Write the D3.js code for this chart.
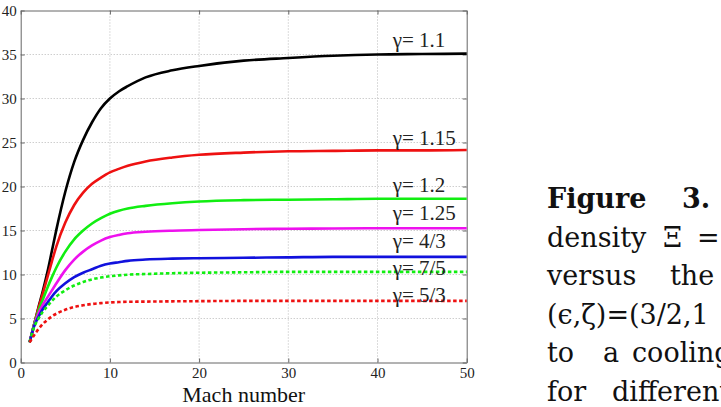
<!DOCTYPE html>
<html><head><meta charset="utf-8">
<script src="https://cdn.jsdelivr.net/npm/d3@7"></script>
<style>
html,body{margin:0;padding:0;background:#fff;}
svg{display:block;}
</style></head>
<body>
<svg id="chart" width="721" height="407"></svg>
<script>
// ---- data ----
const mach = [1, 1.5, 2, 2.5, 3, 3.5, 4, 5, 6, 7, 8, 9, 10, 11, 12, 14, 17, 20, 25, 30, 35, 40, 45, 50];
const gammaLabels = ["γ= 1.1", "γ= 1.15", "γ= 1.2", "γ= 1.25", "γ= 4/3", "γ= 7/5", "γ= 5/3"];
const g110 = [2.3, 4.3, 6.3, 8.2, 10.3, 12.7, 15.1, 19.4, 22.8, 25.3, 27.3, 28.9, 30.0, 30.8, 31.4, 32.4, 33.2, 33.7, 34.3, 34.6, 34.85, 35.0, 35.05, 35.1];
const g115 = [2.3, 4.3, 6.2, 7.9, 9.7, 11.5, 13.2, 15.9, 17.9, 19.3, 20.3, 21.0, 21.6, 22.0, 22.35, 22.85, 23.3, 23.6, 23.85, 24.0, 24.05, 24.1, 24.1, 24.15];
const g120 = [2.3, 4.3, 5.9, 7.2, 8.5, 9.7, 10.8, 12.6, 14.0, 15.0, 15.8, 16.4, 16.9, 17.25, 17.5, 17.8, 18.1, 18.3, 18.45, 18.5, 18.55, 18.6, 18.6, 18.6];
const g125 = [2.3, 4.2, 5.6, 6.6, 7.4, 8.2, 9.0, 10.5, 11.7, 12.6, 13.3, 13.85, 14.25, 14.5, 14.68, 14.85, 14.98, 15.05, 15.15, 15.2, 15.22, 15.25, 15.25, 15.25];
const g43 = [2.3, 4.1, 5.2, 6.1, 6.8, 7.5, 8.1, 9.0, 9.7, 10.2, 10.6, 11.0, 11.25, 11.4, 11.55, 11.7, 11.8, 11.85, 11.9, 11.95, 12.0, 12.0, 12.0, 12.0];
const g75 = [2.3, 4.0, 5.0, 5.8, 6.4, 7.0, 7.5, 8.2, 8.75, 9.15, 9.45, 9.65, 9.8, 9.9, 9.98, 10.05, 10.15, 10.2, 10.25, 10.3, 10.3, 10.3, 10.3, 10.3];
const g53 = [2.3, 3.1, 3.8, 4.4, 4.85, 5.25, 5.55, 6.0, 6.3, 6.5, 6.65, 6.75, 6.82, 6.87, 6.9, 6.92, 6.95, 6.97, 7.0, 7.0, 7.0, 7.0, 7.0, 7.0];
const seriesValues = [g110, g115, g120, g125, g43, g75, g53];
const seriesColors = ["#000000", "#ee1111", "#11ee11", "#ee11ee", "#1111dd", "#11ee11", "#ee1111"];
const seriesDashed = [false, false, false, false, false, true, true];
const labelX = 41.7;
const labelY = [35.9, 24.7, 19.4, 16.2, 13.0, 9.9, 6.85];
const xTicks = [0, 10, 20, 30, 40, 50];
const yTicks = [0, 5, 10, 15, 20, 25, 30, 35, 40];
const xTitle = "Mach number";
const captionLines = [
  {words: [["Figure", 547], ["3.", 682]], bold: true},
  {words: [["density", 547], ["Ξ", 663], ["=", 697]], bold: false},
  {words: [["versus", 547], ["the", 670]], bold: false},
  {words: [["(ϵ,ζ)=(3/2,1", 547]], bold: false},
  {words: [["to", 547], ["a", 603], ["cooling", 632]], bold: false},
  {words: [["for", 547], ["different", 612]], bold: false}
];

// ---- layout ----
const svg = d3.select("#chart");
const x = d3.scaleLinear().domain([0, 50]).range([20.7, 466.7]);
const y = d3.scaleLinear().domain([0, 40]).range([362.5, 10.5]);
const serif = "'Liberation Serif', 'Times New Roman', serif";

// grid
const grid = svg.append("g");
grid.selectAll("line.gx").data(xTicks.slice(1, -1)).join("line")
  .attr("x1", d => x(d)).attr("x2", d => x(d))
  .attr("y1", y(0)).attr("y2", y(40))
  .attr("stroke", "#b8b8b8").attr("stroke-width", 1).attr("stroke-dasharray", "1,2");
grid.selectAll("line.gy").data(yTicks.slice(1, -1)).join("line")
  .attr("y1", d => y(d)).attr("y2", d => y(d))
  .attr("x1", x(0)).attr("x2", x(50))
  .attr("stroke", "#b8b8b8").attr("stroke-width", 1).attr("stroke-dasharray", "1,2");

// axes (inward ticks, matlab style box)
const axStyle = g => {
  g.select(".domain").attr("stroke", "#666");
  g.selectAll(".tick line").attr("stroke", "#666");
  g.selectAll("text").attr("font-family", serif).attr("font-size", 15).attr("fill", "#222");
};
svg.append("g").attr("transform", `translate(0,${y(0)})`)
  .call(d3.axisBottom(x).tickValues(xTicks).tickSizeInner(-4).tickSizeOuter(0).tickPadding(5))
  .call(axStyle);
svg.append("g").attr("transform", `translate(0,${y(40)})`)
  .call(d3.axisTop(x).tickValues(xTicks).tickSizeInner(-4).tickSizeOuter(0).tickFormat(""))
  .call(axStyle);
svg.append("g").attr("transform", `translate(${x(0)},0)`)
  .call(d3.axisLeft(y).tickValues(yTicks).tickSizeInner(-4).tickSizeOuter(0).tickPadding(4))
  .call(axStyle);
svg.append("g").attr("transform", `translate(${x(50)},0)`)
  .call(d3.axisRight(y).tickValues(yTicks).tickSizeInner(-4).tickSizeOuter(0).tickFormat(""))
  .call(axStyle);

// curves
const line = d3.line().x((d, i) => x(mach[i])).y(d => y(d)).curve(d3.curveMonotoneX);
seriesValues.forEach((vals, k) => {
  svg.append("path").datum(vals)
    .attr("d", line)
    .attr("fill", "none")
    .attr("stroke", seriesColors[k])
    .attr("stroke-width", 2.6)
    .attr("stroke-dasharray", seriesDashed[k] ? "3.5,2.5" : null);
});

// labels
gammaLabels.forEach((t, k) => {
  svg.append("text").attr("x", x(labelX)).attr("y", y(labelY[k]))
    .attr("font-family", serif).attr("font-size", 21).attr("fill", "#222")
    .text(t);
});

// x title
svg.append("text").attr("x", (x(0) + x(50)) / 2).attr("y", 402)
  .attr("text-anchor", "middle").attr("font-family", serif).attr("font-size", 22).attr("fill", "#111")
  .text(xTitle);

// caption (cut at right edge)
captionLines.forEach((ln, i) => {
  ln.words.forEach(([w, wx]) => {
    svg.append("text").attr("x", wx).attr("y", 208 + i * 38.5)
      .attr("font-family", "'DejaVu Serif', serif").attr("font-size", 27)
      .attr("font-weight", ln.bold ? "bold" : "normal").attr("fill", "#111")
      .text(w);
  });
});
</script>
</body></html>
